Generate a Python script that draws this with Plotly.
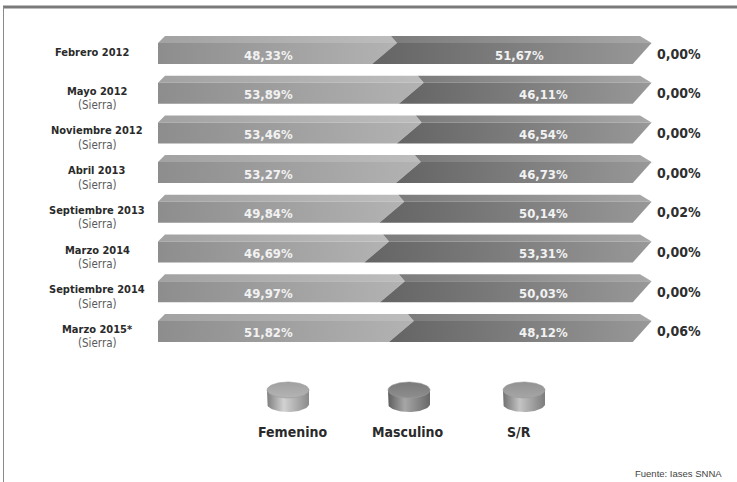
import numpy as np
import plotly.graph_objects as go

# ---------------- data ----------------
periodos = ["Febrero 2012", "Mayo 2012", "Noviembre 2012", "Abril 2013",
            "Septiembre 2013", "Marzo 2014", "Septiembre 2014", "Marzo 2015*"]
region = ["", "(Sierra)", "(Sierra)", "(Sierra)", "(Sierra)", "(Sierra)", "(Sierra)", "(Sierra)"]
femenino = [48.33, 53.89, 53.46, 53.27, 49.84, 46.69, 49.97, 51.82]
masculino = [51.67, 46.11, 46.54, 46.73, 50.14, 53.31, 50.03, 48.12]
sin_registro = [0.00, 0.00, 0.00, 0.00, 0.02, 0.00, 0.00, 0.06]
leyenda = ["Femenino", "Masculino", "S/R"]
fuente = "Fuente: Iases SNNA"

NARROW = "DejaVu Sans Condensed, Liberation Sans Narrow, Arial Narrow, sans-serif"

# axis scale helpers (pixel -> axis units), used only for decorations
X0, XS = 158.0, 4.82       # px of 0 %, px per %
Y0, YS = 49.5, 39.7        # px of first row centre, px per row
def xu(px):
    return (px - X0) / XS
def yu(px):
    return (px - Y0) / YS

def fmt(v):
    return f"{v:.2f}".replace(".", ",") + "%"

fig = go.Figure()

def poly(xs, ys, c0, c1):
    fig.add_trace(go.Scatter(
        x=list(xs) + [xs[0]], y=list(ys) + [ys[0]], mode="lines",
        fill="toself", line=dict(width=0),
        fillgradient=dict(type="horizontal", colorscale=[[0, c0], [1, c1]]),
        hoverinfo="skip", showlegend=False))

TOP, STRIP, BOT = -13.5 / YS, -6.5 / YS, 14.5 / YS
for i, (f, m, s) in enumerate(zip(femenino, masculino, sin_registro)):
    b = f
    e = f + m + s
    yt, ys_, yb = i + TOP, i + STRIP, i + BOT
    # Femenino: top strip + front face
    poly([xu(165), b, b + 1.25, 0], [yt, yt, ys_, ys_], "#a2a2a2", "#bdbdbd")
    poly([0, b + 1.25, b - 3.9, 0], [ys_, ys_, yb, yb], "#8d8d8d", "#b3b3b3")
    # Masculino: top strip + front face
    poly([b, e, e + 2.4, b + 1.25], [yt, yt, ys_, ys_], "#7c7c7c", "#a8a8a8")
    poly([b + 1.25, e + 2.4, e - 1.5, b - 3.9], [ys_, ys_, yb, yb], "#646464", "#989898")

annotations = []
for i, (p, r, f, m, s) in enumerate(zip(periodos, region, femenino, masculino, sin_registro)):
    ty = i + 5.5 / YS
    annotations.append(dict(x=23, y=ty, text=f"<b>{fmt(f)}</b>", showarrow=False,
                            font=dict(family=NARROW, size=13, color="#f2f2f2"),
                            xanchor="center", yanchor="middle"))
    annotations.append(dict(x=75 if i == 0 else 80, y=ty, text=f"<b>{fmt(m)}</b>", showarrow=False,
                            font=dict(family=NARROW, size=13, color="#f2f2f2"),
                            xanchor="center", yanchor="middle"))
    annotations.append(dict(x=xu(679), y=i + 4 / YS, text=f"<b>{fmt(s)}</b>", showarrow=False,
                            font=dict(family=NARROW, size=14, color="#2e2e2e"),
                            xanchor="center", yanchor="middle"))
    if r:
        annotations.append(dict(x=xu(97), y=i + 2 / YS, text=f"<b>{p}</b>", showarrow=False,
                                font=dict(family=NARROW, size=11, color="#2a2a2a"),
                                xanchor="center", yanchor="middle"))
        annotations.append(dict(x=xu(97), y=i + 16 / YS, text=r, showarrow=False,
                                font=dict(family=NARROW, size=11.5, color="#5a5a5a"),
                                xanchor="center", yanchor="middle"))
    else:
        annotations.append(dict(x=xu(92), y=i + 3 / YS, text=f"<b>{p}</b>", showarrow=False,
                                font=dict(family=NARROW, size=11, color="#2a2a2a"),
                                xanchor="center", yanchor="middle"))

# legend cylinders
icon_cx = [288, 409, 524]
label_cx = [293, 408, 519]
tops = [("#b4b4b4", "#a0a0a0"), ("#8e8e8e", "#7a7a7a"), ("#a6a6a6", "#929292")]
sides = [["#7e7e7e", "#d2d2d2", "#8a8a8a"], ["#5e5e5e", "#a6a6a6", "#686868"],
         ["#707070", "#c4c4c4", "#7c7c7c"]]
rx, ry, yt_px, yb_px = 21, 8, 390, 404
t = np.linspace(0, np.pi, 40)
tt = np.linspace(0, 2 * np.pi, 80)
for k, name in enumerate(leyenda):
    cx = icon_cx[k]
    sx = [cx - rx] + list(cx - rx * np.cos(t)) + [cx + rx]
    sy = [yt_px] + list(yb_px + ry * np.sin(t)) + [yt_px]
    fig.add_trace(go.Scatter(
        x=[xu(v) for v in sx], y=[yu(v) for v in sy], mode="lines", fill="toself",
        line=dict(width=0), hoverinfo="skip", showlegend=False,
        fillgradient=dict(type="horizontal",
                          colorscale=[[0, sides[k][0]], [0.4, sides[k][1]], [1, sides[k][2]]])))
    ex = cx + rx * np.cos(tt)
    ey = yt_px + ry * np.sin(tt)
    fig.add_trace(go.Scatter(
        x=[xu(v) for v in ex], y=[yu(v) for v in ey], mode="lines", fill="toself",
        line=dict(width=0.6, color="#9a9a9a"), hoverinfo="skip", showlegend=False,
        fillgradient=dict(type="vertical", colorscale=[[0, tops[k][0]], [1, tops[k][1]]])))
    annotations.append(dict(x=xu(label_cx[k]), y=yu(432), text=f"<b>{name}</b>", showarrow=False,
                            font=dict(family=NARROW, size=14, color="#2a2a2a"),
                            xanchor="center", yanchor="middle"))

annotations.append(dict(x=xu(724), y=yu(473), text=fuente, showarrow=False,
                        font=dict(family="Liberation Sans, Arial, sans-serif", size=9.5, color="#444444"),
                        xanchor="right", yanchor="middle"))

shapes = [
    dict(type="line", xref="paper", yref="paper", x0=3 / 737, x1=1, y0=1 - 7 / 482, y1=1 - 7 / 482,
         line=dict(color="#7a7a7a", width=3)),
    dict(type="line", xref="paper", yref="paper", x0=3.5 / 737, x1=3.5 / 737, y0=0, y1=1 - 7 / 482,
         line=dict(color="#8a8a8a", width=1)),
]

fig.update_layout(
    width=737, height=482, autosize=False,
    margin=dict(l=0, r=0, t=0, b=0),
    paper_bgcolor="white", plot_bgcolor="white",
    xaxis=dict(range=[xu(0), xu(737)], visible=False, fixedrange=True),
    yaxis=dict(range=[yu(482), yu(0)], visible=False, fixedrange=True),
    annotations=annotations, shapes=shapes, showlegend=False,
)

fig.write_html("out.html")
